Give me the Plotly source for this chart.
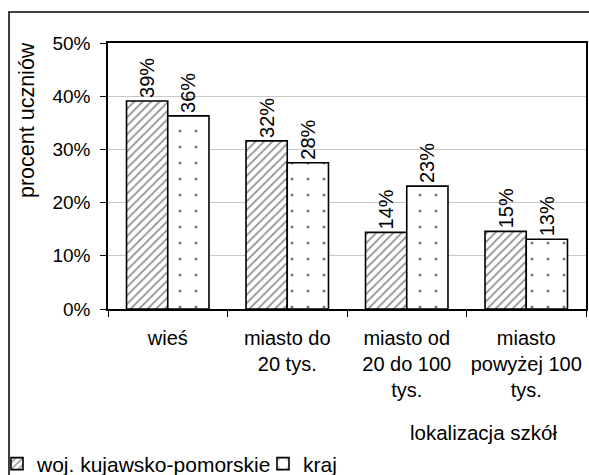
import plotly.graph_objects as go

# categories and values (share of students)
categories = [
    "wieś",
    "miasto do<br>20 tys.",
    "miasto od<br>20 do 100<br>tys.",
    "miasto<br>powyżej 100<br>tys.",
]
woj_values = [0.391, 0.316, 0.144, 0.146]
kraj_values = [0.363, 0.275, 0.231, 0.131]
series_names = ["woj. kujawsko-pomorskie", "kraj"]
y_ticks = [0, 0.1, 0.2, 0.3, 0.4, 0.5]

FONT = "Liberation Sans, Arial, sans-serif"
W, H = 589, 475
L, T = 108, 43
R = W - 586
B = H - 309
PW, PH = W - L - R, H - T - B


def px_x(x):
    # screenshot pixels -> paper coords
    return (x - L) / PW


def px_y(y):
    return (H - B - y) / PH


def bar_trace(name, values, pattern):
    return go.Bar(
        x=categories, y=values, name=name,
        marker=dict(color="white", line=dict(color="black", width=1.6), pattern=pattern),
        texttemplate="%{y:.0%}", textposition="outside", textangle=-90,
        textfont=dict(family=FONT, size=20, color="black"), constraintext="none",
        cliponaxis=False,
    )


fig = go.Figure()
fig.add_trace(bar_trace(series_names[0], woj_values,
                        dict(shape="/", size=6, solidity=0.3, fgcolor="#222", bgcolor="white")))
fig.add_trace(bar_trace(series_names[1], kraj_values,
                        dict(shape=".", size=16, solidity=0.03, fgcolor="black", bgcolor="white")))

fig.update_layout(
    width=W, height=H,
    margin=dict(l=L, r=R, t=T, b=B, autoexpand=False),
    plot_bgcolor="white", paper_bgcolor="white",
    font=dict(family=FONT, size=19, color="black"),
    barmode="group", bargap=0.31, bargroupgap=0,
    showlegend=True,
    legend=dict(orientation="h", x=px_x(-3), xanchor="left", y=px_y(464), yanchor="middle",
                font=dict(size=21), entrywidth=221, itemwidth=30, bgcolor="rgba(0,0,0,0)"),
    shapes=[dict(type="rect", xref="paper", yref="paper",
                 x0=px_x(9), x1=px_x(620), y0=px_y(620), y1=px_y(12),
                 line=dict(color="black", width=1.5), layer="below")],
    annotations=[
        dict(text="procent uczniów", xref="paper", yref="paper", x=px_x(27), y=px_y(120),
             xanchor="center", yanchor="middle", textangle=-90, showarrow=False,
             font=dict(size=21.5)),
        dict(text="lokalizacja szkół", xref="paper", yref="paper", x=px_x(483), y=px_y(433),
             xanchor="center", yanchor="middle", showarrow=False, font=dict(size=20.5)),
    ],
)
fig.update_yaxes(
    range=[0, 0.5], tickvals=y_ticks, tickformat=".0%",
    showgrid=True, gridcolor="#c8c8c8", gridwidth=1,
    showline=True, linecolor="black", linewidth=1.5, mirror=True,
    ticks="outside", ticklen=6, tickcolor="black", ticklabelstandoff=6,
    zeroline=False,
)
fig.update_xaxes(
    showline=True, linecolor="black", linewidth=1.5, mirror=True,
    ticks="outside", ticklen=6, tickcolor="black", tickson="boundaries",
    tickangle=0, ticklabelstandoff=10, tickfont=dict(size=20),
)

# drop the page's default body margin so the figure fills the window exactly
fig.write_html("out.html", config={"displayModeBar": False},
               post_script="document.body.style.margin='0';"
                           "document.documentElement.style.overflow='hidden';")
